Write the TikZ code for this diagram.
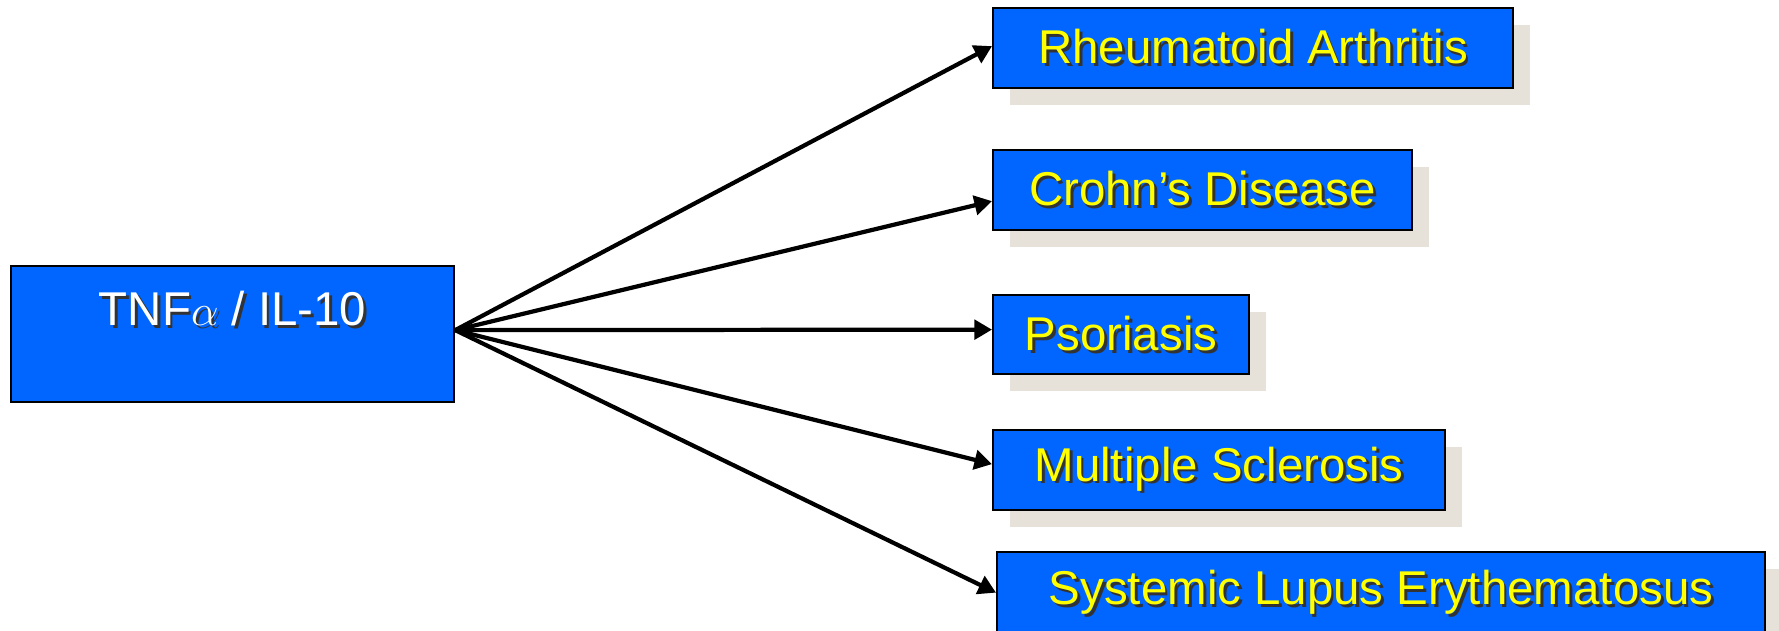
\documentclass[tikz,border=0pt]{standalone}
\usepackage{fontspec}
\setmainfont{Liberation Sans}
\usetikzlibrary{arrows.meta,shadows}

\definecolor{boxblue}{HTML}{0066FF}
\definecolor{shadowgray}{HTML}{E6E2DA}
\definecolor{txtyellow}{HTML}{FFFF00}
\newcommand{\shadowtext}[2]{\makebox[0pt][l]{\hspace{1.6pt}\raisebox{-1.6pt}{\color{black!80}#2}}\textcolor{#1}{#2}}

\tikzset{
  disease/.style={draw, line width=1.3pt, fill=boxblue, anchor=north west,
    minimum height=1.6cm, inner sep=0pt,
    font=\fontsize{27}{30}\selectfont,
    drop shadow={shadow xshift=0.34cm, shadow yshift=-0.34cm, fill=shadowgray, opacity=1}},
  link/.style={line width=2.4pt, -{Triangle[length=10pt,width=11pt]}}
}

\begin{document}
\begin{tikzpicture}[x=0.02cm, y=-0.02cm]
  \useasboundingbox (0,0) rectangle (1779,630);

  \node[draw, line width=1.3pt, fill=boxblue, anchor=north west, inner sep=0pt,
    minimum width=8.86cm, minimum height=2.72cm,
    label={[anchor=center, yshift=-0.9cm, font=\fontsize{27}{30}\selectfont]north:\shadowtext{white}{TNF$\alpha$ / IL-10}}]
    (tnf) at (10,265) {};

  \node[disease, minimum width=10.4cm] (ra) at (992,7) {\shadowtext{txtyellow}{Rheumatoid Arthritis}};
  \node[disease, minimum width=8.38cm] (cd) at (992,149) {\shadowtext{txtyellow}{Crohn’s Disease}};
  \node[disease, minimum width=5.12cm, minimum height=1.58cm] (ps) at (992,294) {\shadowtext{txtyellow}{Psoriasis}};
  \node[disease, minimum width=9.04cm] (ms) at (992,429) {\shadowtext{txtyellow}{Multiple Sclerosis}};
  \node[disease, minimum width=15.36cm, minimum height=1.66cm] (sle) at (996,551) {\shadowtext{txtyellow}{Systemic Lupus Erythematosus}};

  % arrows from the cytokine box
  \foreach \n/\d in {ra/0.04, cd/-0.22, ps/0.1, ms/0.12, sle/0.02}
    \draw[link] ([yshift=0.08cm]tnf.east) -- ([yshift=\d cm]\n.west);
\end{tikzpicture}
\end{document}
